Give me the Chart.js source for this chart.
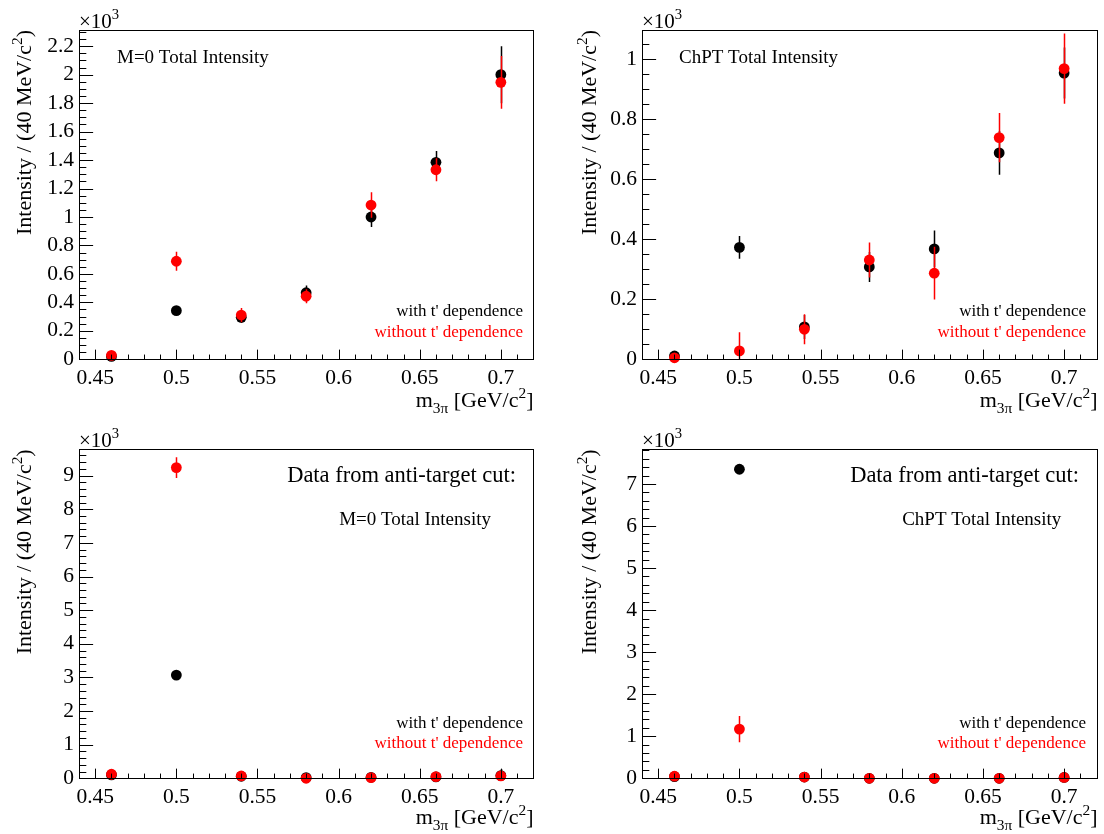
<!DOCTYPE html>
<html><head><meta charset="utf-8">
<script src="https://cdn.jsdelivr.net/npm/chart.js@4/dist/chart.umd.min.js"></script>
<style>
html,body{margin:0;padding:0;background:#fff;width:1104px;height:834px;overflow:hidden}
.p{position:absolute;width:552px;height:417px}
canvas{display:block}
</style></head><body>
<div class="p" style="left:0;top:0"><canvas id="c0" width="552" height="417"></canvas></div>
<div class="p" style="left:552px;top:0"><canvas id="c1" width="552" height="417"></canvas></div>
<div class="p" style="left:0;top:417px"><canvas id="c2" width="552" height="417"></canvas></div>
<div class="p" style="left:552px;top:417px"><canvas id="c3" width="552" height="417"></canvas></div>
<script>
// ---------- data ----------
const massBins = [0.46, 0.50, 0.54, 0.58, 0.62, 0.66, 0.70];
const xTickValues = [0.45, 0.50, 0.55, 0.60, 0.65, 0.70];
const xTickLabels = ["0.45", "0.5", "0.55", "0.6", "0.65", "0.7"];

// M=0 total intensity (x10^3)
const m0With       = [0.020, 0.342, 0.295, 0.468, 1.000, 1.384, 2.000];
const m0WithErr    = [0.010, 0.030, 0.040, 0.050, 0.070, 0.080, 0.200];
const m0Without    = [0.028, 0.689, 0.311, 0.443, 1.084, 1.332, 1.946];
const m0WithoutErr = [0.015, 0.067, 0.050, 0.050, 0.090, 0.080, 0.185];

// ChPT total intensity (x10^3)
const chptWith       = [0.011, 0.373, 0.108, 0.308, 0.368, 0.688, 0.954];
const chptWithErr    = [0.010, 0.038, 0.040, 0.050, 0.061, 0.073, 0.085];
const chptWithout    = [0.005, 0.028, 0.100, 0.331, 0.287, 0.739, 0.969];
const chptWithoutErr = [0.010, 0.062, 0.050, 0.058, 0.088, 0.082, 0.117];

// anti-target cut, M=0 (x10^3)
const antiM0With       = [0.10, 3.07, 0.06, 0.02, 0.03, 0.04, 0.08];
const antiM0WithErr    = [0.03, 0.08, 0.03, 0.02, 0.02, 0.03, 0.20];
const antiM0Without    = [0.12, 9.24, 0.07, 0.00, 0.02, 0.05, 0.07];
const antiM0WithoutErr = [0.03, 0.31, 0.03, 0.02, 0.02, 0.03, 0.05];

// anti-target cut, ChPT (x10^3)
const antiChptWith       = [0.04, 7.35, 0.03, 0.00, 0.00, 0.00, 0.02];
const antiChptWithErr    = [0.02, 0.08, 0.02, 0.01, 0.01, 0.01, 0.02];
const antiChptWithout    = [0.05, 1.17, 0.03, 0.00, 0.00, 0.00, 0.02];
const antiChptWithoutErr = [0.02, 0.31, 0.02, 0.01, 0.01, 0.01, 0.02];

const yTicksM0   = [0, 0.2, 0.4, 0.6, 0.8, 1.0, 1.2, 1.4, 1.6, 1.8, 2.0, 2.2];
const yLabelsM0  = ["0","0.2","0.4","0.6","0.8","1","1.2","1.4","1.6","1.8","2","2.2"];
const yTicksChpt  = [0, 0.2, 0.4, 0.6, 0.8, 1.0];
const yLabelsChpt = ["0","0.2","0.4","0.6","0.8","1"];
const yTicksAntiM0  = [0,1,2,3,4,5,6,7,8,9];
const yLabelsAntiM0 = ["0","1","2","3","4","5","6","7","8","9"];
const yTicksAntiChpt  = [0,1,2,3,4,5,6,7];
const yLabelsAntiChpt = ["0","1","2","3","4","5","6","7"];

const seriesNames = ["with t' dependence", "without t' dependence"];
const seriesColors = ["#000000", "#ff0000"];

// ---------- layout ----------
const FONT = '"Liberation Serif","Times New Roman",Times,serif';
const panels = [
  {id:'c0', ox:0, oy:0, fl:79, fr:533.3, ft:30, fb:359.3, yMax:2.314, yMinor:0.05,
   yT:yTicksM0, yL:yLabelsM0, w:m0With, we:m0WithErr, wo:m0Without, woe:m0WithoutErr,
   texts:[{t:'M=0 Total Intensity', x:117, y:63, size:19, align:'left'}],
   legR:523, legY:[316,337], titleX:31, xTitleY:407, tenY:28},
  {id:'c1', ox:552, oy:0, fl:642, fr:1096.6, ft:30, fb:359.3, yMax:1.0977, yMinor:0.05,
   yT:yTicksChpt, yL:yLabelsChpt, w:chptWith, we:chptWithErr, wo:chptWithout, woe:chptWithoutErr,
   texts:[{t:'ChPT Total Intensity', x:679, y:63, size:19, align:'left'}],
   legR:1086, legY:[316,337], titleX:596, xTitleY:407, tenY:28},
  {id:'c2', ox:0, oy:417, fl:79, fr:533.3, ft:449.3, fb:778.3, yMax:9.784, yMinor:0.2,
   yT:yTicksAntiM0, yL:yLabelsAntiM0, w:antiM0With, we:antiM0WithErr, wo:antiM0Without, woe:antiM0WithoutErr,
   texts:[{t:'Data from anti-target cut:', x:516, y:481.7, size:22.5, align:'right'},
          {t:'M=0 Total Intensity', x:491, y:525, size:19, align:'right'}],
   legR:523, legY:[728.3,748.3], titleX:31, xTitleY:824, tenY:447},
  {id:'c3', ox:552, oy:417, fl:642, fr:1096.6, ft:449.3, fb:778.3, yMax:7.825, yMinor:0.2,
   yT:yTicksAntiChpt, yL:yLabelsAntiChpt, w:antiChptWith, we:antiChptWithErr, wo:antiChptWithout, woe:antiChptWithoutErr,
   texts:[{t:'Data from anti-target cut:', x:1079, y:481.7, size:22.5, align:'right'},
          {t:'ChPT Total Intensity', x:1061.3, y:525, size:19, align:'right'}],
   legR:1086, legY:[728.3,748.3], titleX:596, xTitleY:824, tenY:447}
];

function rich(ctx, parts, x, y, align, size, color) {
  const m = []; let w = 0;
  for (const [t,k] of parts) {
    const fs = k === 'n' ? size : size * 0.7;
    ctx.font = fs + 'px ' + FONT;
    const tw = ctx.measureText(t).width;
    m.push([t,k,fs,tw]); w += tw;
  }
  let cx = align === 'right' ? x - w : (align === 'center' ? x - w/2 : x);
  ctx.fillStyle = color; ctx.textAlign = 'left'; ctx.textBaseline = 'alphabetic';
  for (const [t,k,fs,tw] of m) {
    ctx.font = fs + 'px ' + FONT;
    const dy = k === 'sup' ? -size*0.42 : (k === 'sub' ? size*0.25 : 0);
    ctx.fillText(t, cx, y + dy);
    cx += tw;
  }
}

function makeChart(p) {
  const lx = v => v - p.ox, ly = v => v - p.oy;
  const toPts = arr => massBins.map((m,i) => ({x:m, y:arr[i]}));

  const overlay = {
    id:'rootStyle',
    beforeDatasetDraw(chart, args) {
      const {ctx, chartArea:a, scales:{x,y}} = chart;
      const ds = chart.data.datasets[args.index];
      const e2 = ds.series === 0 ? p.we : p.woe;
      const vals = ds.series === 0 ? p.w : p.wo;
      ctx.save();
      ctx.beginPath(); ctx.rect(a.left, a.top, a.right - a.left, a.bottom - a.top); ctx.clip();
      ctx.strokeStyle = ds.backgroundColor; ctx.lineWidth = 1.5;
      massBins.forEach((m,i) => {
        const px = Math.round(x.getPixelForValue(m)) + 0.5;
        ctx.beginPath();
        ctx.moveTo(px, y.getPixelForValue(vals[i] - e2[i]));
        ctx.lineTo(px, y.getPixelForValue(vals[i] + e2[i]));
        ctx.stroke();
      });
      ctx.restore();
    },
    afterDraw(chart) {
      const {ctx, chartArea:a, scales:{x,y}} = chart;
      ctx.save();
      ctx.strokeStyle = '#000'; ctx.lineWidth = 1;
      const L = Math.round(a.left) + 0.5, R = Math.round(a.right) + 0.5;
      const T = Math.round(a.top) + 0.5, B = Math.round(a.bottom) + 0.5;
      ctx.strokeRect(L, T, R - L, B - T);
      // x ticks
      const xMajLen = (a.bottom - a.top) * 0.03;
      const xMinStep = 0.01;
      ctx.beginPath();
      for (let i = Math.ceil(x.min / xMinStep - 1e-6); i * xMinStep <= x.max + 1e-9; i++) {
        const v = i * xMinStep;
        const major = xTickValues.some(t => Math.abs(t - v) < 1e-6);
        const px = Math.round(x.getPixelForValue(v)) + 0.5;
        ctx.moveTo(px, B); ctx.lineTo(px, B - (major ? xMajLen : xMajLen/2));
      }
      // y ticks
      const yMajLen = (a.right - a.left) * 0.03;
      for (let i = 0; i * p.yMinor <= y.max + 1e-9; i++) {
        const v = i * p.yMinor;
        const major = p.yT.some(t => Math.abs(t - v) < 1e-6);
        const py = Math.round(y.getPixelForValue(v)) + 0.5;
        ctx.moveTo(L, py); ctx.lineTo(L + (major ? yMajLen : yMajLen/2), py);
      }
      ctx.stroke();
      // texts
      for (const t of p.texts) rich(ctx, [[t.t,'n']], lx(t.x), ly(t.y), t.align, t.size, '#000');
      rich(ctx, [[seriesNames[0],'n']], lx(p.legR), ly(p.legY[0]), 'right', 17, seriesColors[0]);
      rich(ctx, [[seriesNames[1],'n']], lx(p.legR), ly(p.legY[1]), 'right', 17, seriesColors[1]);
      rich(ctx, [['\u00d710','n'],['3','sup']], L - 0.5, ly(p.tenY), 'left', 21, '#000');
      rich(ctx, [['m','n'],['3\u03c0','sub'],[' [GeV/c','n'],['2','sup'],[']','n']], R, ly(p.xTitleY), 'right', 22, '#000');
      ctx.save();
      ctx.translate(lx(p.titleX), a.top);
      ctx.rotate(-Math.PI/2);
      rich(ctx, [['Intensity / (40 MeV/c','n'],['2','sup'],[')','n']], 0, 0, 'right', 22, '#000');
      ctx.restore();
      ctx.restore();
    }
  };

  const xL = lx(p.fl), xR = lx(p.fr), yT = ly(p.ft), yB = ly(p.fb);
  return new Chart(document.getElementById(p.id), {
    type:'scatter',
    data:{ datasets:[
      {label:seriesNames[1], series:1, data:toPts(p.wo), backgroundColor:seriesColors[1], pointRadius:5.4, pointBorderWidth:0, borderWidth:0, clip:false, order:1},
      {label:seriesNames[0], series:0, data:toPts(p.w), backgroundColor:seriesColors[0], pointRadius:5.4, pointBorderWidth:0, borderWidth:0, clip:false, order:2}
    ]},
    options:{
      responsive:false, animation:false, events:[],
      layout:{padding:{left:0, top:yT, right:552 - xR, bottom:0}},
      plugins:{legend:{display:false}, tooltip:{enabled:false}},
      scales:{
        x:{type:'linear', min:0.44, max:0.72,
           grid:{display:false, drawTicks:false}, border:{display:false},
           afterBuildTicks:s => { s.ticks = xTickValues.map(v => ({value:v})); },
           afterFit:s => { s.height = 417 - yB; s.paddingLeft = 0; s.paddingRight = 0; },
           ticks:{autoSkip:false, maxRotation:0, minRotation:0, padding:6, color:'#000',
                  font:{family:FONT, size:21.5}, callback:(v,i) => xTickLabels[i]}},
        y:{type:'linear', min:0, max:p.yMax,
           grid:{display:false, drawTicks:false}, border:{display:false},
           afterBuildTicks:s => { s.ticks = p.yT.map(v => ({value:v})); },
           afterFit:s => { s.width = xL; s.paddingTop = 0; s.paddingBottom = 0; },
           ticks:{autoSkip:false, padding:5, color:'#000',
                  font:{family:FONT, size:21.5}, callback:(v,i) => p.yL[i]}}
      }
    },
    plugins:[overlay]
  });
}
panels.forEach(makeChart);
</script>
</body></html>
